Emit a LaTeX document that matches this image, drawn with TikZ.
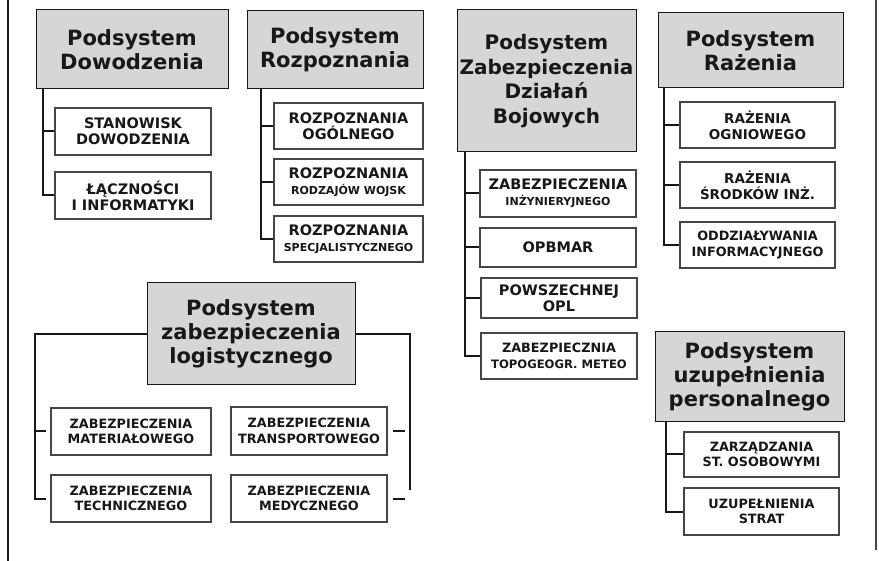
\documentclass[tikz,border=0pt]{standalone}
\usepackage{fontspec}
\setmainfont{DejaVu Sans}
\usepackage{tikz}
\usetikzlibrary{positioning}

\definecolor{ink}{RGB}{24,24,24}
\definecolor{rule}{RGB}{70,70,70}
\definecolor{headfill}{RGB}{214,214,214}

\newcommand{\hd}{\fontsize{21}{24}\selectfont\bfseries}
\newcommand{\cb}{\fontsize{14.5}{16}\selectfont\bfseries}
\newcommand{\cs}{\fontsize{11}{13.5}\selectfont\bfseries}
\newcommand{\cl}{\fontsize{12.8}{15.5}\selectfont\bfseries}
\newcommand{\cm}{\fontsize{13.5}{16}\selectfont\bfseries}

\begin{document}
\begin{tikzpicture}[x=1pt,y=-1pt,
    head/.style={draw=ink,line width=1pt,fill=headfill,align=center,
      text=ink,inner sep=0pt,font=\hd},
    unit/.style={draw=rule,line width=1.1pt,fill=white,align=center,
      text=ink,inner sep=0pt,font=\cb},
    trunk/.style={draw=ink,line width=2pt},
  ]

  \useasboundingbox (0,0) rectangle (879,561);
  \draw[line width=1.6pt,draw=ink] (8,0) -- (8,561);
  \draw[line width=1.4pt,draw=rule] (876,0) -- (876,550);

  % naglowki podsystemow
  \node[head,minimum width=192,minimum height=79] (hDow) at (132,49.5)
    {Podsystem\\Dowodzenia};
  \node[head,minimum width=176,minimum height=78] (hRoz) at (335,50)
    {Podsystem\\Rozpoznania};
  \node[head,minimum width=179,minimum height=142,font=\fontsize{20}{24.5}\selectfont\bfseries]
    (hZab) at (546.5,81) {Podsystem\\Zabezpieczenia\\Działań\\Bojowych};
  \node[head,minimum width=185,minimum height=75] (hRaz) at (750.5,50.5)
    {Podsystem\\Rażenia};
  \node[head,minimum width=208,minimum height=102] (hLog) at (251,334)
    {Podsystem\\zabezpieczenia\\logistycznego};
  \node[head,minimum width=189,minimum height=90] (hPer) at (749.5,377)
    {Podsystem\\uzupełnienia\\personalnego};

  % komorki - dowodzenie
  \node[unit,minimum width=156,minimum height=47] (dow1) at (133,131.5)
    {STANOWISK\\DOWODZENIA};
  \node[unit,minimum width=156,minimum height=47] (dow2) at (133,195.5)
    {ŁĄCZNOŚCI\\I INFORMATYKI};

  % komorki - rozpoznanie
  \node[unit,minimum width=149,minimum height=46] (roz1) at (348.5,126)
    {ROZPOZNANIA\\OGÓLNEGO};
  \node[unit,minimum width=149,minimum height=46] (roz2) at (348.5,182)
    {ROZPOZNANIA\\{\cs RODZAJÓW WOJSK}};
  \node[unit,minimum width=149,minimum height=46] (roz3) at (348.5,239)
    {ROZPOZNANIA\\{\cs SPECJALISTYCZNEGO}};

  % komorki - zabezpieczenie dzialan bojowych
  \node[unit,minimum width=156,minimum height=47] (zab1) at (558,193.5)
    {ZABEZPIECZENIA\\{\cs INŻYNIERYJNEGO}};
  \node[unit,minimum width=156,minimum height=39] (zab2) at (558,247.5)
    {OPBMAR};
  \node[unit,minimum width=156,minimum height=40] (zab3) at (559,298)
    {POWSZECHNEJ\\OPL};
  \node[unit,minimum width=156,minimum height=46,font=\cl] (zab4) at (559,356)
    {ZABEZPIECZNIA\\{\fontsize{11.6}{14}\selectfont TOPOGEOGR. METEO}};

  % komorki - razenie
  \node[unit,minimum width=155,minimum height=46,font=\cm] (raz1) at (757.5,125)
    {RAŻENIA\\OGNIOWEGO};
  \node[unit,minimum width=155,minimum height=46,font=\cm] (raz2) at (757.5,185)
    {RAŻENIA\\ŚRODKÓW INŻ.};
  \node[unit,minimum width=155,minimum height=46,font=\cl] (raz3) at (757.5,245)
    {ODDZIAŁYWANIA\\INFORMACYJNEGO};

  % komorki - logistyka
  \node[unit,minimum width=160,minimum height=47,font=\cl] (log1) at (131,431.5)
    {ZABEZPIECZENIA\\MATERIAŁOWEGO};
  \node[unit,minimum width=156,minimum height=48,font=\cl] (log2) at (309,431)
    {ZABEZPIECZENIA\\TRANSPORTOWEGO};
  \node[unit,minimum width=160,minimum height=47,font=\cl] (log3) at (131,498.5)
    {ZABEZPIECZENIA\\TECHNICZNEGO};
  \node[unit,minimum width=156,minimum height=47,font=\cl] (log4) at (309,498.5)
    {ZABEZPIECZENIA\\MEDYCZNEGO};

  % komorki - personel
  \node[unit,minimum width=155,minimum height=45,font=\cl] (per1) at (761.5,454.5)
    {ZARZĄDZANIA\\ST. OSOBOWYMI};
  \node[unit,minimum width=155,minimum height=47,font=\cl] (per2) at (761.5,511.5)
    {UZUPEŁNIENIA\\STRAT};

  % pnie i odgalezienia
  \coordinate (tDow) at (43,89);
  \coordinate (tRoz) at (261,89);
  \coordinate (tZab) at (465,152);
  \coordinate (tRaz) at (664,88);
  \coordinate (tPer) at (666,422);

  \draw[trunk] (tDow) |- (dow2.west);
  \draw[trunk] (tDow |- dow1.west) -- (dow1.west);

  \draw[trunk] (tRoz) |- (roz3.west);
  \foreach \c in {roz1,roz2}
    \draw[trunk] (tRoz |- \c.west) -- (\c.west);

  \draw[trunk] (tZab) |- (zab4.west);
  \foreach \c in {zab1,zab2,zab3}
    \draw[trunk] (tZab |- \c.west) -- (\c.west);

  \draw[trunk] (tRaz) |- (raz3.west);
  \foreach \c in {raz1,raz2}
    \draw[trunk] (tRaz |- \c.west) -- (\c.west);

  \draw[trunk] (tPer) |- (per2.west);
  \draw[trunk] (tPer |- per1.west) -- (per1.west);

  % logistyka: dwa pnie po bokach
  \coordinate (lL) at (35,0);
  \coordinate (lR) at (410,0);
  \draw[trunk] (hLog.west) -- (hLog.west -| lL) -- (lL |- log3.west)
    -- ([xshift=-4pt]log3.west);
  \draw[trunk,shorten >=4pt] (lL |- log1.west) -- (log1.west);
  \draw[trunk] (hLog.east) -- (hLog.east -| lR) -- ([yshift=9pt]lR |- log4.east);
  \foreach \c in {log2,log4}
    \draw[trunk,shorten <=5pt,shorten >=5pt] (\c.east) -- (lR |- \c.east);

\end{tikzpicture}
\end{document}
